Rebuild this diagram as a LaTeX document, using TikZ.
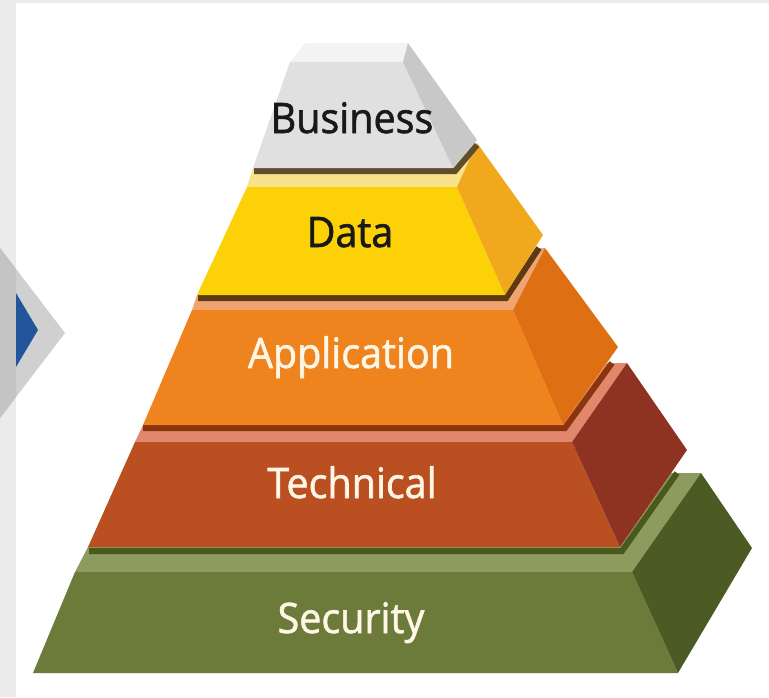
\documentclass[tikz,border=0pt]{standalone}
\usepackage{fontspec}
\newfontfamily\labfont[FakeBold=1.4,FakeStretch=0.94]{Open Sans}
\definecolor{bgband}{HTML}{EBEBEB}
\definecolor{chevA}{HTML}{D0D0D0}
\definecolor{chevB}{HTML}{C4C4C4}
\definecolor{chevblue}{HTML}{23559A}
\definecolor{busTop}{HTML}{F3F3F3}
\definecolor{busFront}{HTML}{E0E0E0}
\definecolor{busSide}{HTML}{C8C8C8}
\definecolor{busShadow}{HTML}{5E4E2C}
\definecolor{datTop}{HTML}{F8E28A}
\definecolor{datFront}{HTML}{FCD108}
\definecolor{datSide}{HTML}{F2A81C}
\definecolor{datShadow}{HTML}{5C3A12}
\definecolor{appTop}{HTML}{F2A470}
\definecolor{appFront}{HTML}{EF831E}
\definecolor{appSide}{HTML}{DE6F12}
\definecolor{appShadow}{HTML}{8A3510}
\definecolor{tecTop}{HTML}{E2876B}
\definecolor{tecFront}{HTML}{BA4F22}
\definecolor{tecSide}{HTML}{8E3322}
\definecolor{tecShadow}{HTML}{4A5A1C}
\definecolor{secTop}{HTML}{8E9B5E}
\definecolor{secFront}{HTML}{6C7A3A}
\definecolor{secSide}{HTML}{4C5A24}
\definecolor{lightText}{HTML}{FFF6E6}
\begin{document}
\begin{tikzpicture}[x=1pt,y=-1pt,
  lbl/.style={font=\labfont\fontsize{42}{42}\selectfont, anchor=base, inner sep=0pt},
  face/.style={line join=round},
  shadowline/.style={line width=6pt, line join=miter}]
\useasboundingbox (0,0) rectangle (769,697);
% background
\fill[bgband] (0,0) rectangle (769,697);
\fill[white] (16,3) rectangle (769,697);
% chevron
\fill[chevA] (0,248) -- (65,333) -- (0,418) -- cycle;
\fill[chevB] (0,248) -- (16,269) -- (16,397) -- (0,418) -- cycle;
\fill[chevblue] (16,293) -- (38,330) -- (16,367) -- cycle;

% ---------- Security ----------
\fill[secTop,face] (75,572) -- (632,572) -- (701,473) -- (671,473) -- (620,547) -- (88,547) -- cycle;
\fill[secFront,face] (33,673) -- (678,673) -- (632,572) -- (75,572) -- cycle;
\fill[secSide,face] (632,572) -- (701,473) -- (752,548) -- (678,673) -- cycle;

% ---------- Technical ----------
\draw[tecShadow,shadowline] (89,551) -- (622,551) -- (677,473);
\fill[tecTop,face] (135,442) -- (572,442) -- (627,363) -- (607,363) -- (563,425) -- (143,425) -- cycle;
\fill[tecFront,face] (88,547) -- (620,547) -- (572,442) -- (135,442) -- cycle;
\fill[tecSide,face] (572,442) -- (627,363) -- (687,450) -- (620,547) -- cycle;

% ---------- Application ----------
\draw[appShadow,shadowline] (143,428) -- (565,428) -- (612,363);
\fill[appTop,face] (192,310) -- (513,310) -- (545,248) -- (535,248) -- (505,295) -- (197,295) -- cycle;
\fill[appFront,face] (143,425) -- (563,425) -- (513,310) -- (192,310) -- cycle;
\fill[appSide,face] (513,310) -- (545,248) -- (618,347) -- (563,425) -- cycle;

% ---------- Data ----------
\draw[datShadow,shadowline] (198,298) -- (506,298) -- (539,248);
\fill[datTop,face] (247,187) -- (457,187) -- (477,143) -- (474,143) -- (453,168) -- (253,168) -- cycle;
\fill[datFront,face] (197,295) -- (505,295) -- (457,187) -- (247,187) -- cycle;
\fill[datSide,face] (457,187) -- (477,143) -- (543,235) -- (505,295) -- cycle;

% ---------- Business ----------
\draw[busShadow,shadowline] (254,171) -- (455,171) -- (477,145);
\fill[busTop,face] (290,62) -- (403,62) -- (408,43) -- (305,43) -- cycle;
\fill[busFront,face] (253,168) -- (453,168) -- (403,62) -- (290,62) -- cycle;
\fill[busSide,face] (403,62) -- (408,43) -- (477,140) -- (453,168) -- cycle;

% ---------- Labels ----------
\node[lbl, text=black!90] (business) at (352,133) {Business};
\node[lbl, text=black!90] (data) at (350,247) {Data};
\node[lbl, text=lightText] (application) at (351,368) {Application};
\node[lbl, text=lightText] (technical) at (352,498) {Technical};
\node[lbl, text=lightText] (security) at (351,633) {Security};
\end{tikzpicture}
\end{document}
